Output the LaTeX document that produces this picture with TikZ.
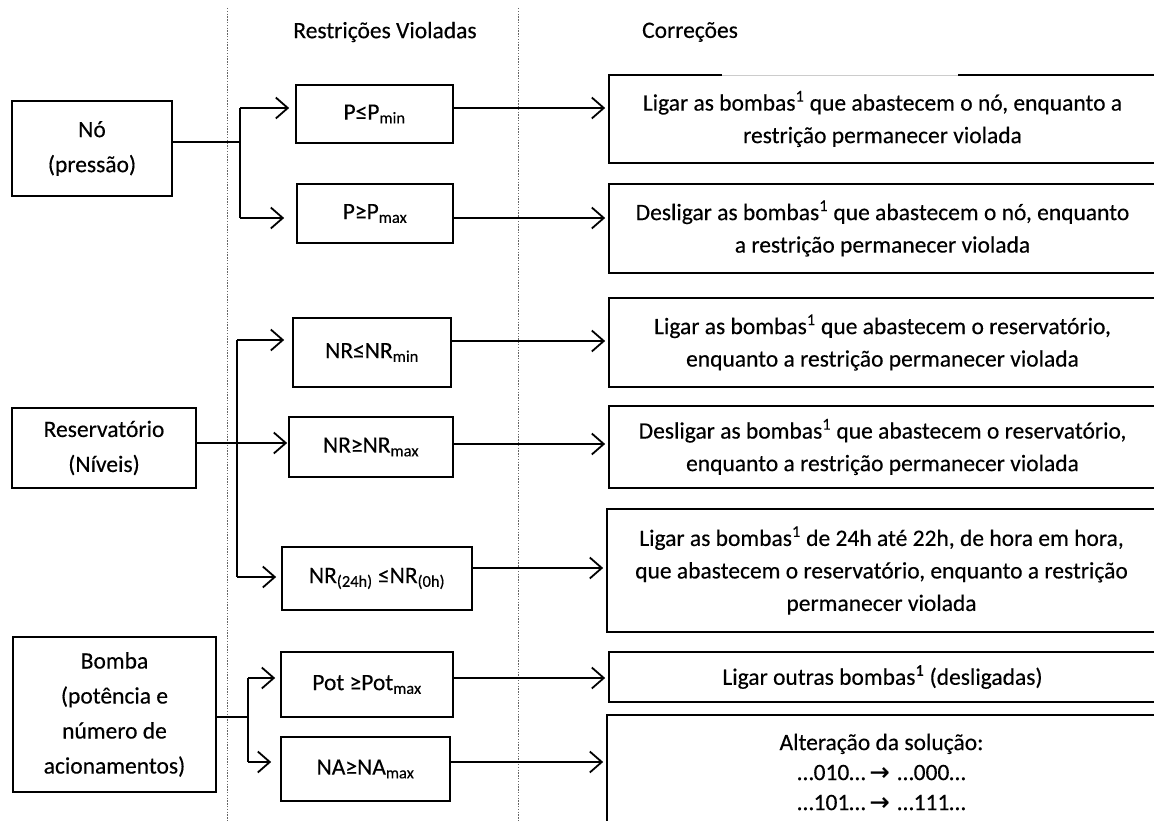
\documentclass[tikz,border=0pt]{standalone}
\usepackage{fontspec}
\setmainfont{Carlito}[FakeBold=0.35]
\newfontfamily\symfont{DejaVu Sans}[FakeBold=0.6]
\usetikzlibrary{arrows.meta}
\newcommand\mainsize{\fontsize{23.5}{32.5}\selectfont}
\newcommand\widesize{\fontsize{23.5}{35}\selectfont}
\newcommand\lowtxt[1]{\textsubscript{#1}}
\newcommand\noteone{\textsuperscript{1}}
\newcommand\rarr{\,{\symfont\fontsize{24}{24}\selectfont→}\,\,}
\begin{document}
\begin{tikzpicture}[x=1pt,y=-1pt,
  box/.style={draw, line width=1.7pt, inner sep=0pt, align=center, font=\mainsize},
  elem/.style={box, font=\widesize},
  wire/.style={line width=1.8pt},
  conn/.style={line width=1.8pt, -{Straight Barb[length=12pt,width=21pt,line width=1.8pt]}},
  divider/.style={draw=gray!80!black, line width=0.9pt, dash pattern=on 1.4pt off 1.4pt},
  head/.style={font=\mainsize}]
\useasboundingbox (0,0) rectangle (1154,821);
\clip (0,0) rectangle (1154,821);

% column dividers
\draw[divider] (227,8) -- (227,821);
\draw[divider] (518,8) -- (518,821);

% column titles
\node[head] (t1) at (385,32) {Restrições Violadas};
\node[head] (t2) at (690,32) {Correções};

% elements
\node[elem, minimum width=160pt, minimum height=95pt] (no) at (92,148.5) {Nó\\(pressão)};
\node[elem, minimum width=184pt, minimum height=80pt] (res) at (104,448) {Reservatório\\(Níveis)};
\node[elem, minimum width=203pt, minimum height=155pt] (bomba) at (114.5,714.5) {Bomba\\(potência e\\número de\\acionamentos)};

% violated constraints
\node[box, minimum width=157pt, minimum height=58pt] (pmin) at (374.5,114) {P≤P\lowtxt{min}};
\node[box, minimum width=156pt, minimum height=59pt] (pmax) at (375,213.5) {P≥P\lowtxt{max}};
\node[box, minimum width=158pt, minimum height=69pt] (nrmin) at (372,352.5) {NR≤NR\lowtxt{min}};
\node[box, minimum width=164pt, minimum height=60pt] (nrmax) at (371,447) {NR≥NR\lowtxt{max}};
\node[box, minimum width=190pt, minimum height=63pt] (nr24) at (377,578.5) {NR\lowtxt{(24h)} ≤NR\lowtxt{(0h)}};
\node[box, minimum width=172pt, minimum height=65pt] (pot) at (367,684.5) {Pot ≥Pot\lowtxt{max}};
\node[box, minimum width=169pt, minimum height=64pt] (na) at (365.5,769) {NA≥NA\lowtxt{max}};

% corrections
\node[box, minimum width=547pt, minimum height=88pt] (c1) at (882.5,119) {Ligar as bombas\noteone{} que abastecem o nó, enquanto a\\restrição permanecer violada};
\node[box, minimum width=547pt, minimum height=89pt] (c2) at (882.5,228.5) {Desligar as bombas\noteone{} que abastecem o nó, enquanto\\a restrição permanecer violada};
\node[box, minimum width=547pt, minimum height=89pt] (c3) at (882.5,342.5) {Ligar as bombas\noteone{} que abastecem o reservatório,\\enquanto a restrição permanecer violada};
\node[box, minimum width=547pt, minimum height=82pt] (c4) at (882.5,447) {Desligar as bombas\noteone{} que abastecem o reservatório,\\enquanto a restrição permanecer violada};
\node[box, minimum width=549pt, minimum height=123pt] (c5) at (881.5,570.5) {Ligar as bombas\noteone{} de 24h até 22h, de hora em hora,\\que abastecem o reservatório, enquanto a restrição\\permanecer violada};
\node[box, minimum width=547pt, minimum height=50pt] (c6) at (882.5,677) {Ligar outras bombas\noteone{} (desligadas)};
\node[box, minimum width=549pt, minimum height=114pt, font=\fontsize{23.5}{30}\selectfont] (c7) at (881.5,772) {Alteração da solução:\\…010…\rarr …000…\\…101…\rarr …111…};

% break in the top edge of the first correction box
\draw[white, line width=3pt] (722,75) -- (958,75);
\draw[gray!40, line width=0.6pt] (722,75.5) -- (958,75.5);

% junction points
\coordinate (jn) at (240,142);
\coordinate (jn1) at (240,108);
\coordinate (jn2) at (240,218);
\coordinate (jr) at (237,443);
\coordinate (jr1) at (237,340);
\coordinate (jr3) at (237,577);
\coordinate (jb) at (248,717);
\coordinate (jb1) at (248,678);
\coordinate (jb2) at (248,762);

% node branches
\draw[wire] (no.east |- jn) -- (jn);
\draw[wire] (jn1) -- (jn2);
\draw[conn, shorten >=6pt] (jn1) -- (jn1 -| pmin.west);
\draw[conn, shorten >=12pt] (jn2) -- (jn2 -| pmax.west);

% reservoir branches
\draw[wire] (res.east |- jr) -- (jr);
\draw[wire] (jr1) -- (jr3);
\draw[conn, shorten >=8pt] (jr1) -- (jr1 -| nrmin.west);
\draw[conn, shorten >=1pt] (jr) -- (jr -| nrmax.west);
\draw[conn, shorten >=5pt] (jr3) -- (jr3 -| nr24.west);

% pump branches
\draw[wire] (bomba.east |- jb) -- (jb);
\draw[wire] (jb1) -- (jb2);
\draw[conn, shorten >=5pt] (jb1) -- (jb1 -| pot.west);
\draw[conn, shorten >=9pt] (jb2) -- (jb2 -| na.west);

% constraint to correction
\draw[conn, shorten >=3pt] (pmin.east |- 0,108) -- (c1.west |- 0,108);
\draw[conn, shorten >=3pt] (pmax.east |- 0,218) -- (c2.west |- 0,218);
\draw[conn, shorten >=3pt] (nrmin.east |- 0,341) -- (c3.west |- 0,341);
\draw[conn, shorten >=3pt] (nrmax.east |- 0,444) -- (c4.west |- 0,444);
\draw[conn, shorten >=3pt] (nr24.east |- 0,568) -- (c5.west |- 0,568);
\draw[conn, shorten >=3pt] (pot.east |- 0,678) -- (c6.west |- 0,678);
\draw[conn, shorten >=3pt] (na.east |- 0,762) -- (c7.west |- 0,762);
\end{tikzpicture}
\end{document}
